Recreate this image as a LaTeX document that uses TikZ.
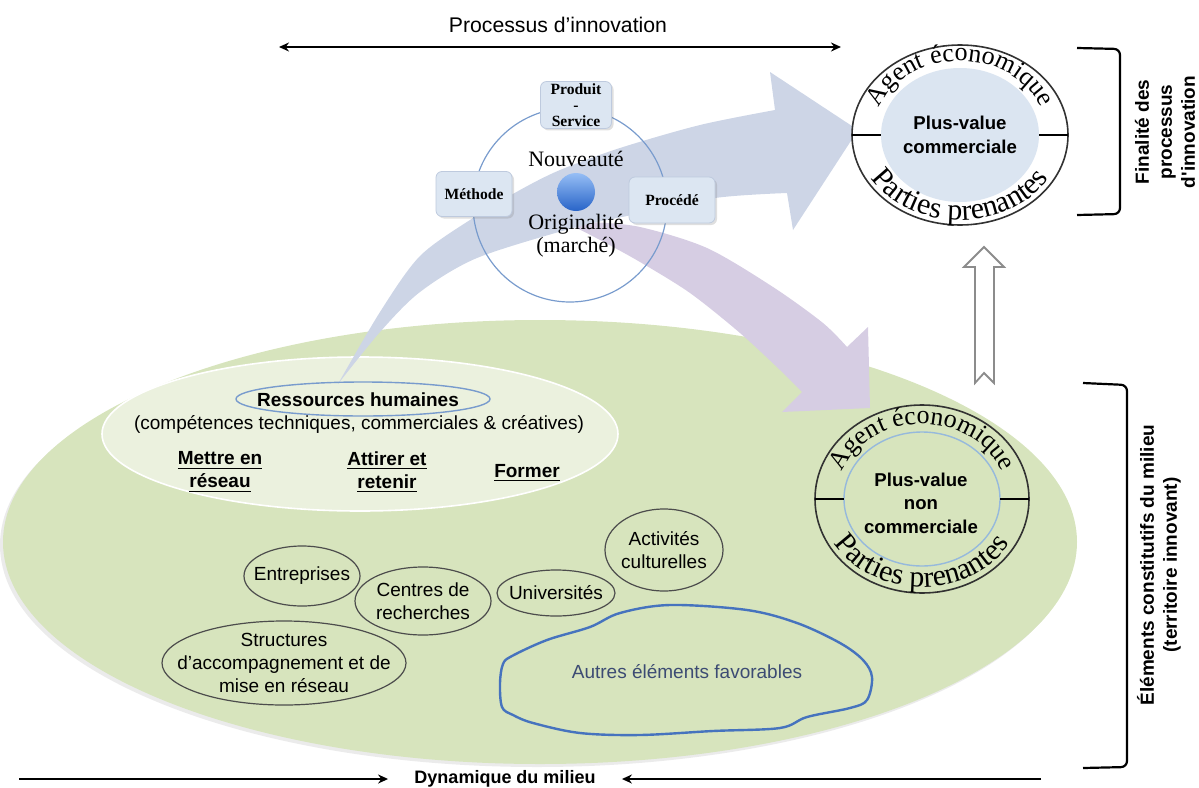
\documentclass[tikz,border=0pt]{standalone}
\usepackage{fontspec}
\setmainfont{Liberation Serif}
\newfontfamily\arialf{Liberation Sans}
\newfontfamily\seriff{Liberation Serif}
\usetikzlibrary{arrows.meta,decorations.text,shadows}

\definecolor{greenbg}{RGB}{215,228,189}
\definecolor{greenin}{RGB}{235,241,222}
\definecolor{bluearr}{RGB}{205,213,230}
\definecolor{purparr}{RGB}{214,205,227}
\definecolor{boxfill}{RGB}{220,230,242}
\definecolor{boxedge}{RGB}{190,202,222}
\definecolor{circblue}{RGB}{120,155,205}
\definecolor{plusfill}{RGB}{219,229,241}
\definecolor{autres}{RGB}{70,115,190}
\definecolor{autrestext}{RGB}{60,75,115}
\definecolor{ringgray}{RGB}{50,50,50}
\definecolor{spheretop}{RGB}{150,190,245}
\definecolor{spherebot}{RGB}{40,100,200}

\begin{document}
\begin{tikzpicture}[x=0.5pt,y=-0.5pt,
  lbl/.style={font=\arialf\fontsize{9.5}{11.5}\selectfont, align=center, inner sep=0pt},
  boldlbl/.style={font=\arialf\bfseries\fontsize{9.5}{11.5}\selectfont, align=center, inner sep=0pt},
  smallbox/.style={draw=boxedge, fill=boxfill, rounded corners=3pt, line width=0.4pt,
     font=\seriff\bfseries\fontsize{7.8}{8}\selectfont, align=center, inner sep=1pt,
     drop shadow={shadow xshift=1pt, shadow yshift=-1pt, opacity=0.25}},
  elt/.style={draw=black!70, line width=0.6pt},
  ring/.style={draw=ringgray, line width=0.8pt},
  serifbig/.style={font=\seriff\fontsize{11}{11.5}\selectfont, align=center, inner sep=0pt},
  arr/.style={line width=1pt, -{Stealth[length=5pt,width=4.5pt]}},
  bracket/.style={line width=1.1pt, rounded corners=3pt}
]
\useasboundingbox (0,0) rectangle (1199,787);

% ---- milieu (green ellipse)
\fill[black!8] (537,545) ellipse[x radius=537, y radius=222];
\fill[greenbg] (540,542) ellipse[x radius=537, y radius=222];
\fill[greenin, draw=white, line width=0.8pt] (360,434) ellipse[x radius=258, y radius=77];

% ---- purple arrow
\fill[purparr] plot[smooth] coordinates {(565,222) (590,222) (640,227) (707,248) (773,287) (823,323) (847,347)}
  -- (868,327) -- (870,408) -- (782,412) -- (802,392)
  -- plot[smooth] coordinates {(802,392) (780,370) (740,333) (690,293) (640,262) (600,240) (565,222)} -- cycle;

% ---- blue arrow
\fill[bluearr] plot[smooth] coordinates {(338,384) (380,312) (420,256) (473,218) (520,190) (560,170) (620,148) (700,125) (775,110)}
  -- (770,72) -- (858,130) -- (793,230) -- (787,193)
  -- plot[smooth] coordinates {(787,193) (715,198) (627,216) (573,228) (477,258) (420,292) (380,332) (338,384)} -- cycle;

% ---- innovation circle
\draw[circblue, line width=0.6pt] (570,205) circle[radius=97];
\shade[top color=spheretop, bottom color=spherebot] (576,192) circle[radius=19];
\node[serifbig] (nouv) at (576,159) {Nouveauté};
\node[serifbig] (orig) at (576,236) {Originalité\\(marché)};
\node[smallbox, minimum width=35.5pt, minimum height=22pt] (prod) at (576,105) {Produit\\-\\Service};
\node[smallbox, minimum width=38pt, minimum height=22.5pt] (meth) at (474,194) {Méthode};
\node[smallbox, minimum width=43pt, minimum height=23pt] (proc) at (672,200) {Procédé};

% ---- ressources humaines
\draw[circblue, line width=0.7pt] (363,399) ellipse[x radius=127, y radius=17];
\node[boldlbl] (rh) at (358,400) {Ressources humaines};
\node[lbl] (comp) at (359,424) {(compétences techniques, commerciales \& créatives)};
\node[boldlbl] (mettre) at (220,472) {\underline{Mettre en}\\\underline{réseau}};
\node[boldlbl] (attirer) at (387,472) {\underline{Attirer et}\\\underline{retenir}};
\node[boldlbl] (former) at (527,473) {\underline{Former}};

% ---- acteurs
\node[lbl] (entr) at (302,576) {Entreprises};
\draw[elt] (entr.center) ellipse[x radius=58, y radius=30];
\node[lbl] (centres) at (423,601) {Centres de\\recherches};
\draw[elt] (centres.center) ellipse[x radius=68, y radius=34];
\node[lbl] (univ) at (556,593) {Universités};
\draw[elt] (univ.center) ellipse[x radius=59, y radius=23];
\node[lbl] (activ) at (664,550) {Activités\\culturelles};
\draw[elt] (activ.center) ellipse[x radius=59, y radius=41];
\node[lbl] (struct) at (284,663) {Structures\\d’accompagnement et de\\mise en réseau};
\draw[elt] (struct.center) ellipse[x radius=122, y radius=42];

% ---- autres elements
\draw[autres, line width=1.2pt] plot[smooth cycle, tension=0.55] coordinates {
 (503,664) (512,656) (547,640) (590,627) (620,613) (670,605) (747,610) (797,623)
 (840,643) (863,660) (872,677) (867,700) (850,708) (807,717) (780,728) (713,731)
 (640,735) (580,733) (533,723) (513,715) (502,707) (500,683)};
\node[lbl, text=autrestext] (autres) at (687,672) {Autres éléments favorables};

% ---- plus-value commerciale
\fill[white] (960,135) ellipse[x radius=108, y radius=90];
\fill[plusfill] (960,135) ellipse[x radius=79, y radius=67];
\draw[ring] (960,135) ellipse[x radius=108, y radius=90];
\draw[line width=1pt] (852,135) -- (881,135) (1039,135) -- (1068,135);
\node[boldlbl, font=\arialf\bfseries\fontsize{9.3}{12}\selectfont] (pv1) at (960,135) {Plus-value\\commerciale};
\path[decorate, decoration={text along path, text align=center,
  text={|\seriff\fontsize{13}{13}\selectfont|Agent économique}}]
  (873,135) arc[start angle=180, end angle=360, x radius=87, y radius=74];
\path[decorate, decoration={text along path, text align=center,
  text={|\seriff\fontsize{15}{15}\selectfont|Parties prenantes}}]
  (857,135) arc[start angle=180, end angle=0, x radius=103, y radius=85];

% ---- plus-value non commerciale
\draw[ring] (922,499) ellipse[x radius=107, y radius=94];
\draw[draw={rgb,255:red,150;green,185;blue,220}, line width=0.7pt, fill=greenbg] (922,499) ellipse[x radius=78, y radius=67];
\draw[line width=1pt] (815,499) -- (844,499) (1000,499) -- (1029,499);
\node[boldlbl, font=\arialf\bfseries\fontsize{9.3}{11.75}\selectfont] (pv2) at (921,503) {Plus-value\\non\\commerciale};
\path[decorate, decoration={text along path, text align=center,
  text={|\seriff\fontsize{13}{13}\selectfont|Agent économique}}]
  (836,499) arc[start angle=180, end angle=360, x radius=86, y radius=75];
\path[decorate, decoration={text along path, text align=center,
  text={|\seriff\fontsize{15}{15}\selectfont|Parties prenantes}}]
  (820,499) arc[start angle=180, end angle=0, x radius=102, y radius=88];

% ---- hollow arrow
\draw[draw=black!45, fill=white, line width=0.9pt]
  (975,383) -- (975,267) -- (964,267) -- (984,247) -- (1004,267) -- (994,267) -- (994,383) -- (984,373) -- cycle;

% ---- brackets and side labels
\draw[bracket] (1077,48) -- (1120,49) -- (1120,214) -- (1077,215);
\draw[bracket] (1083,383) -- (1127,385) -- (1127,767) -- (1083,768);
\node[boldlbl, rotate=90] (fin) at (1165,132) {Finalité des\\processus\\d'innovation};
\node[boldlbl, rotate=90] (elem) at (1159,565) {Éléments constitutifs du milieu\\(territoire innovant)};

% ---- processus d'innovation
\coordinate (pl) at (279,47);
\coordinate (pr) at (841,47);
\draw[line width=1pt, {Stealth[length=5pt,width=4.5pt]}-{Stealth[length=5pt,width=4.5pt]}] (pl) -- (pr);
\node[font=\arialf\fontsize{10.6}{12}\selectfont, inner sep=0pt] (procinno) at (558,25) {Processus d’innovation};

% ---- dynamique du milieu
\node[font=\arialf\bfseries\fontsize{9}{10}\selectfont, inner sep=0pt] (dyn) at (505,779) {Dynamique du milieu};
\coordinate (dl) at (19,779);
\coordinate (dr) at (1041,779);
\draw[arr, shorten >=13pt] (dl) -- (dyn.west);
\draw[arr, shorten >=13pt] (dr) -- (dyn.east);
\end{tikzpicture}
\end{document}
